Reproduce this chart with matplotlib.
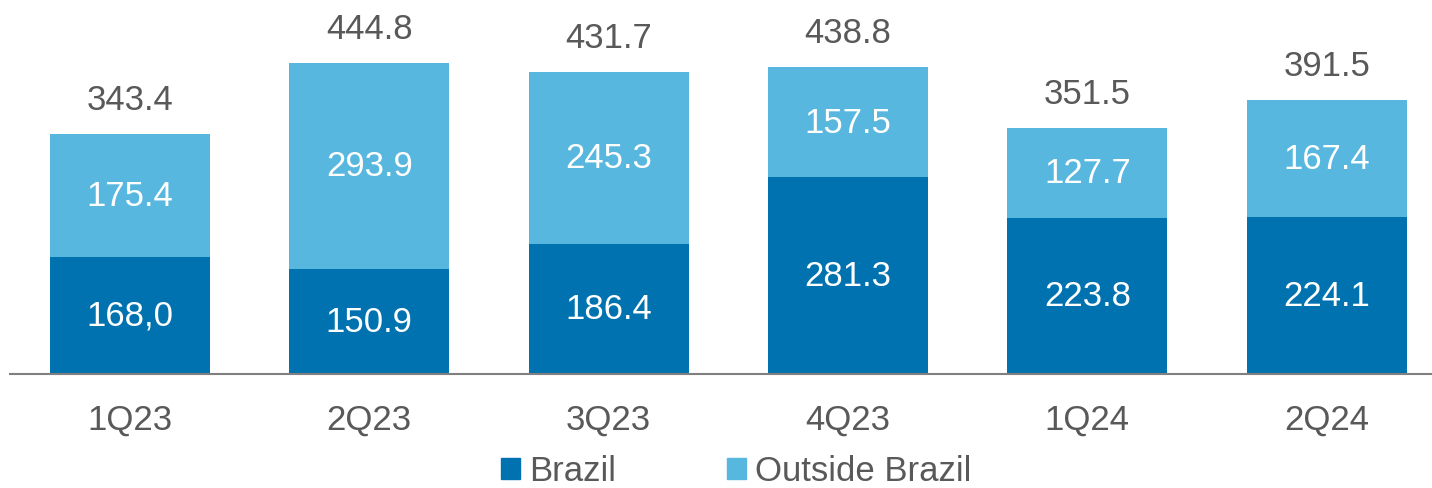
import matplotlib.pyplot as plt
from matplotlib.patches import Patch

plt.rcParams["font.family"] = ["Liberation Sans", "DejaVu Sans"]

DARK = "#0072B0"
LIGHT = "#58B7DE"
GREY = "#595959"

quarters = ["1Q23", "2Q23", "3Q23", "4Q23", "1Q24", "2Q24"]
brazil = [168.0, 150.9, 186.4, 281.3, 223.8, 224.1]
outside = [175.4, 293.9, 245.3, 157.5, 127.7, 167.4]
totals = [343.4, 444.8, 431.7, 438.8, 351.5, 391.5]
brazil_labels = ["168,0", "150.9", "186.4", "281.3", "223.8", "224.1"]

W, H = 1432, 489
fig = plt.figure(figsize=(W / 100, H / 100), dpi=100)
ax = fig.add_axes([10 / W, 114 / H, 1 - 10 / W, 375 / H])

x = list(range(len(quarters)))
width = 0.668
ax.bar(x, brazil, width, color=DARK, zorder=2)
ax.bar(x, outside, width, bottom=brazil, color=LIGHT, zorder=2)

for i in x:
    ax.text(i, brazil[i] / 2, brazil_labels[i], ha="center", va="center",
            color="white", fontsize=25)
    ax.text(i, brazil[i] + outside[i] / 2, f"{outside[i]:.1f}",
            ha="center", va="center", color="white", fontsize=25)
    ax.annotate(f"{totals[i]:.1f}", (i, brazil[i] + outside[i]),
                xytext=(0, 25), textcoords="offset points",
                ha="center", va="center", color=GREY, fontsize=25)

ax.set_xlim(-0.501, 5.44)
ax.set_ylim(0, 536.5)
ax.set_yticks([])
ax.set_xticks(x)
ax.set_xticklabels(quarters, fontsize=25, color=GREY)
ax.tick_params(axis="x", length=0, pad=21)
for side in ["top", "right", "left"]:
    ax.spines[side].set_visible(False)
ax.spines["bottom"].set_color("#808080")
ax.spines["bottom"].set_linewidth(1.5)
ax.patch.set_visible(False)

handles = [Patch(color=DARK, label="Brazil"),
           Patch(color=LIGHT, label="Outside Brazil")]
leg = fig.legend(handles=handles, loc="center", ncol=2,
                 bbox_to_anchor=(736 / W, 17 / H), frameon=False,
                 fontsize=25, handlelength=0.55, handleheight=0.55,
                 handletextpad=0.25, columnspacing=3.2, borderpad=0)
for t in leg.get_texts():
    t.set_color(GREY)

fig.savefig("out.png", dpi=100)
